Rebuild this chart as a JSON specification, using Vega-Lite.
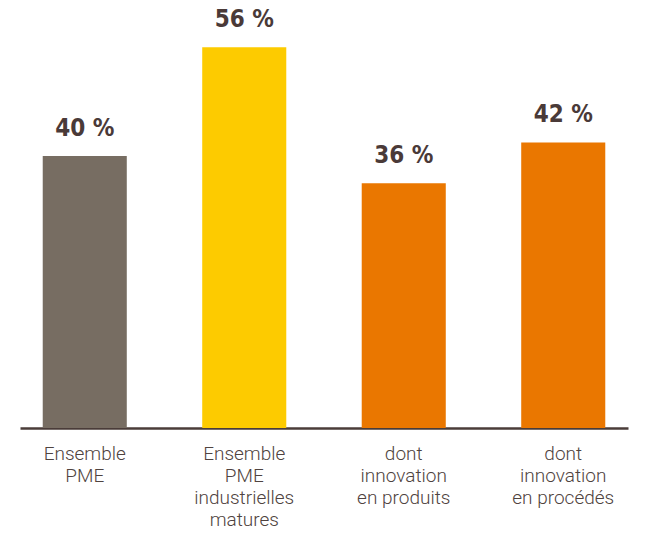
{
  "$schema": "https://vega.github.io/schema/vega-lite/v6.json",
  "width": 608,
  "height": 408,
  "autosize": {"type": "none"},
  "padding": {"left": 20, "top": 20, "right": 17, "bottom": 117},
  "background": "white",
  "config": {"view": {"stroke": null}},
  "data": {
    "values": [
      {"cat": "Ensemble|PME", "value": 40, "label": "40 %", "color": "#776d62"},
      {"cat": "Ensemble|PME|industrielles|matures", "value": 56, "label": "56 %", "color": "#fdcb00"},
      {"cat": "dont|innovation|en produits", "value": 36, "label": "36 %", "color": "#ea7700"},
      {"cat": "dont|innovation|en procédés", "value": 42, "label": "42 %", "color": "#ea7700"}
    ]
  },
  "encoding": {
    "x": {
      "field": "cat",
      "type": "nominal",
      "sort": null,
      "scale": {"paddingInner": 0.473, "paddingOuter": 0.1425},
      "axis": {
        "title": null,
        "labelAngle": 0,
        "labelExpr": "split(datum.label, '|')",
        "labelFont": "Roboto",
        "labelFontWeight": 300,
        "labelFontSize": 19,
        "labelLineHeight": 22,
        "labelColor": "#4f4340",
        "labelPadding": 16,
        "labelBaseline": "top",
        "ticks": false,
        "domainColor": "#4a3c39",
        "domainWidth": 2.5
      }
    },
    "y": {
      "field": "value",
      "type": "quantitative",
      "scale": {"domain": [0, 60]},
      "axis": null
    }
  },
  "layer": [
    {
      "mark": {"type": "bar"},
      "encoding": {
        "color": {"field": "color", "type": "nominal", "scale": null}
      }
    },
    {
      "mark": {
        "type": "text",
        "dy": -15,
        "baseline": "bottom",
        "font": "DejaVu Sans Condensed",
        "fontWeight": "bold",
        "fontSize": 24,
        "fill": "#4a3a38"
      },
      "encoding": {
        "text": {"field": "label"}
      }
    }
  ]
}
